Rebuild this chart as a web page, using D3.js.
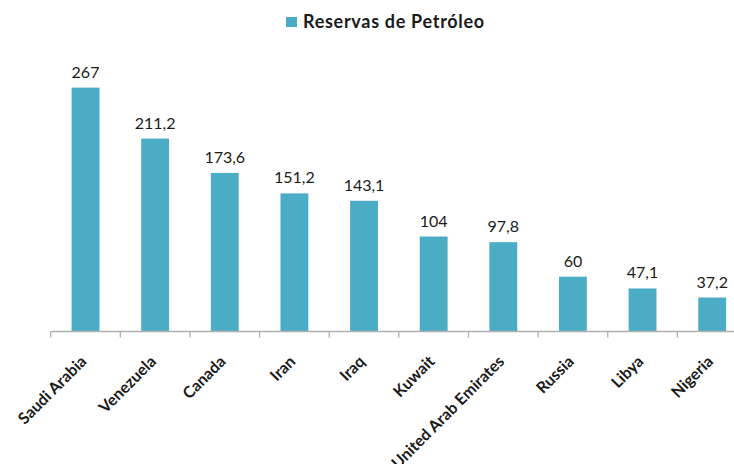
<!DOCTYPE html>
<html>
<head>
<meta charset="utf-8">
<script src="https://cdn.jsdelivr.net/npm/d3@7"></script>
<style>
  body { margin: 0; background: #fff; }
  svg text { font-family: Lato, "Liberation Sans", sans-serif; fill: #1a1a1a; }
</style>
</head>
<body>
<div id="chart"></div>
<script>
var countries = ["Saudi Arabia", "Venezuela", "Canada", "Iran", "Iraq", "Kuwait",
    "United Arab Emirates", "Russia", "Libya", "Nigeria"];
var reserves = [267, 211.2, 173.6, 151.2, 143.1, 104, 97.8, 60, 47.1, 37.2];
var valueLabels = ["267", "211,2", "173,6", "151,2", "143,1", "104", "97,8", "60", "47,1", "37,2"];
var seriesName = "Reservas de Petróleo";

var width = 734, height = 464;
var color = "#4bacc6";
var rows = countries.map((c, i) => ({ name: c, value: reserves[i], label: valueLabels[i] }));

var svg = d3.select("#chart").append("svg")
    .attr("width", width)
    .attr("height", height);

var xScale = d3.scaleBand().domain(countries).range([50.7, 747]).paddingInner(0.6).paddingOuter(0.3);
var yScale = d3.scaleLinear().domain([0, 300]).range([331.5, 57.5]);

// bars
svg.selectAll("rect.bar")
    .data(rows)
    .enter()
    .append("rect")
    .attr("class", "bar")
    .attr("x", d => xScale(d.name))
    .attr("width", xScale.bandwidth())
    .attr("y", d => yScale(d.value))
    .attr("height", d => yScale(0) - yScale(d.value))
    .attr("fill", color);

// value labels
svg.selectAll("text.val")
    .data(rows)
    .enter()
    .append("text")
    .attr("class", "val")
    .attr("x", d => xScale(d.name) + xScale.bandwidth() / 2)
    .attr("y", d => yScale(d.value) - 10)
    .attr("text-anchor", "middle")
    .style("font-size", "16px")
    .text(d => d.label);

// x axis with tick marks between categories
var axisG = svg.append("g").attr("transform", `translate(0, ${yScale(0)})`);
var step = xScale.step();
var x0 = xScale.range()[0];
axisG.append("line")
    .attr("x1", x0).attr("x2", width)
    .attr("stroke", "#b0b0b0").attr("stroke-width", 1.3);
axisG.selectAll("line.tick")
    .data(d3.range(countries.length + 1))
    .enter()
    .append("line")
    .attr("class", "tick")
    .attr("x1", i => x0 + i * step).attr("x2", i => x0 + i * step)
    .attr("y1", 0).attr("y2", 6)
    .attr("stroke", "#b0b0b0").attr("stroke-width", 1.3);

axisG.selectAll("text.cat")
    .data(countries)
    .enter()
    .append("text")
    .attr("class", "cat")
    .attr("text-anchor", "end")
    .attr("transform", d => `translate(${xScale(d) + xScale.bandwidth() / 2 + 2}, 31) rotate(-45)`)
    .style("font-size", "16px")
    .style("font-weight", "bold")
    .text(d => d);

// legend
var legend = svg.append("g").attr("transform", "translate(286, 17)");
legend.append("rect").attr("width", 11).attr("height", 10).attr("fill", color);
legend.append("text")
    .attr("x", 17).attr("y", 11)
    .style("font-size", "18px")
    .style("font-weight", "bold")
    .style("letter-spacing", "0.7px")
    .text(seriesName);
</script>
</body>
</html>
